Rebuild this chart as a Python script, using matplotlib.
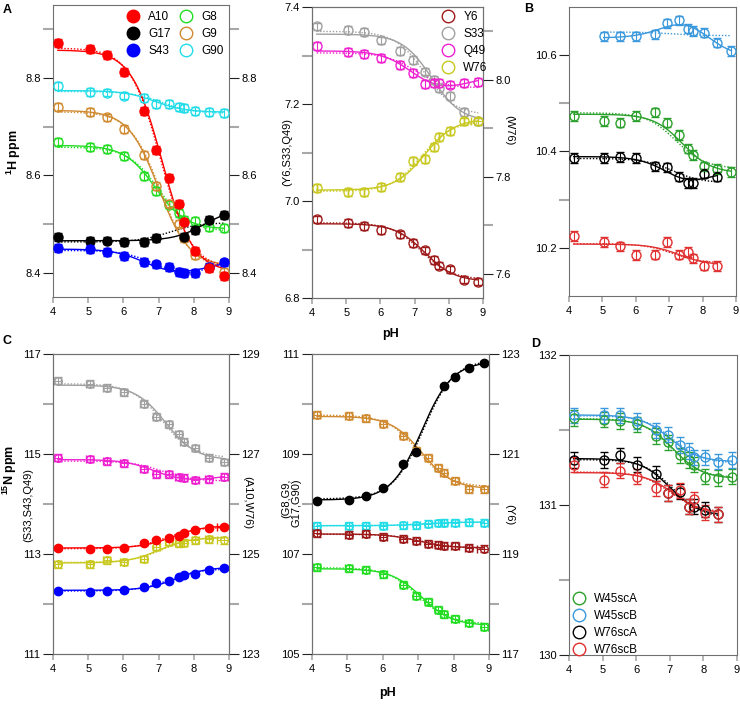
import numpy as np
import matplotlib
matplotlib.use('Agg')
import matplotlib.pyplot as plt
from matplotlib.lines import Line2D
from matplotlib.ticker import FormatStrFormatter

plt.rcParams['font.family'] = ['Liberation Sans', 'DejaVu Sans']
plt.rcParams['mathtext.default'] = 'regular'
plt.rcParams['font.size'] = 8

nan = np.nan

# pH of the titration points
ph = [4.14, 5.04, 5.52, 6.01, 6.58, 6.94, 7.29, 7.57, 7.72, 8.04, 8.43, 8.86]

# A: backbone 1H shifts (ppm)
h_a10 = [8.872, 8.859, 8.847, 8.812, 8.732, 8.652, 8.595, 8.542, 8.505, 8.445, 8.410, 8.393]
h_g17 = [8.474, 8.466, 8.466, 8.463, 8.463, 8.471, nan, nan, 8.473, 8.487, 8.509, 8.518]
h_s43 = [8.450, 8.448, 8.442, 8.434, 8.422, 8.417, 8.412, 8.402, 8.399, 8.399, 8.412, 8.421]
h_g8 = [8.669, 8.659, 8.654, 8.640, 8.599, 8.568, 8.540, 8.523, 8.508, 8.506, 8.493, 8.492]
h_g9 = [8.740, 8.730, 8.719, 8.695, 8.641, 8.578, 8.542, 8.501, 8.472, 8.437, 8.412, 8.402]
h_g90 = [8.783, 8.772, 8.770, 8.764, 8.759, 8.747, 8.747, 8.740, 8.738, 8.732, 8.730, 8.728]
h_y6 = [6.962, 6.955, 6.948, 6.940, 6.931, 6.914, 6.898, 6.878, 6.867, 6.859, 6.838, 6.834]
h_s33 = [7.360, 7.353, 7.348, 7.331, 7.310, 7.291, 7.267, 7.250, 7.233, 7.217, 7.184, 7.164]
h_q49 = [7.319, 7.308, 7.303, 7.295, 7.281, 7.264, 7.242, 7.244, 7.244, 7.240, 7.243, 7.246]
h_w76 = [7.777, 7.768, 7.768, 7.779, 7.800, 7.832, 7.837, 7.862, 7.882, 7.894, 7.914, 7.914]

# B: side-chain indole 1H shifts (ppm)
b_w45a = [10.474, 10.463, 10.460, 10.474, 10.481, 10.460, 10.434, 10.406, 10.393, 10.369, 10.364, 10.357]
b_w45b = [nan, 10.639, 10.639, 10.639, 10.643, 10.666, 10.672, 10.655, 10.650, 10.647, 10.626, 10.609]
b_w76a = [10.386, 10.386, 10.388, 10.386, 10.369, 10.367, 10.348, 10.334, 10.334, 10.354, 10.348, nan]
b_w76b = [10.224, 10.212, 10.203, 10.185, 10.186, 10.212, 10.186, 10.191, 10.178, 10.163, 10.162, nan]

# C: backbone 15N shifts (ppm)
n_s33 = [116.47, 116.41, 116.33, 116.24, 116.01, 115.75, 115.60, 115.40, 115.25, 115.12, 114.93, 114.84]
n_q49 = [114.93, 114.90, 114.86, 114.82, 114.70, 114.60, 114.60, 114.54, 114.53, 114.48, 114.50, 114.55]
n_s43 = [112.26, 112.25, 112.26, 112.28, 112.34, 112.42, 112.47, 112.54, 112.58, 112.60, 112.68, 112.72]
n_a10 = [125.12, 125.10, 125.10, 125.12, 125.22, 125.28, 125.33, 125.37, 125.42, 125.48, 125.53, 125.55]
n_w76 = [124.80, 124.80, 124.88, 124.84, 124.90, 125.15, 125.25, 125.22, 125.23, 125.28, 125.30, 125.28]
n_g17 = [108.07, 108.09, 108.17, 108.33, 108.80, 109.05, nan, nan, 110.37, 110.55, 110.73, 110.83]
n_g9 = [109.79, 109.77, 109.72, 109.61, 109.37, 109.07, 108.93, 108.73, 108.63, 108.47, 108.30, 108.30]
n_g90 = [107.57, 107.57, 107.57, 107.57, 107.58, 107.58, 107.61, 107.62, 107.63, 107.63, 107.64, 107.63]
n_g8 = [106.74, 106.72, 106.69, 106.60, 106.39, 106.17, 106.05, 105.89, 105.80, 105.71, 105.62, 105.55]
n_y6 = [119.42, 119.39, 119.41, 119.35, 119.31, 119.27, 119.21, 119.19, 119.17, 119.17, 119.13, 119.11]

# D: side-chain indole 15N shifts (ppm)
d_w45a = [131.58, 131.57, 131.56, 131.54, 131.46, 131.42, 131.33, 131.30, 131.27, 131.19, 131.18, 131.19]
d_w45b = [131.60, 131.60, 131.60, 131.56, 131.50, 131.47, 131.40, 131.36, 131.32, 131.32, 131.29, 131.30]
d_w76a = [131.30, 131.30, 131.33, 131.27, 131.21, 131.08, 131.09, 130.99, 130.99, 130.97, 130.94, nan]
d_w76b = [131.27, 131.17, 131.23, 131.19, 131.11, 131.08, 131.10, 130.99, 131.04, 130.95, 130.94, nan]

# errors
err_h = 0.008
err_b = 0.010
err_n = 0.07
err_d = 0.05
ph_err_n = 0.1
ph_err_last = [0, 0, 0, 0, 0, 0, 0, 0, 0, 0, 0, 0.2]

# pKa values of the two fits (solid line, dotted line)
pk_fit = {
    'hA10': ([7.1], [7.05]), 'hG17': ([8.3], [7.3]), 'hS43': ([6.6, 8.4], [6.9, 8.6]),
    'hG8': ([6.9], [7.0]), 'hG9': ([7.0], [7.05]), 'hG90': ([6.9], [7.1]),
    'hY6': ([7.3], [7.2]), 'hS33': ([7.5], [7.3]), 'hQ49': ([6.9, 8.5], [7.0]), 'hW76': ([7.3], [7.2]),
    'bW45A': ([7.4], [7.2]), 'bW45B': ([6.9, 8.1], [7.1]), 'bW76A': ([7.0, 8.0], [7.1]), 'bW76B': ([7.3], [7.1]),
    'nS33': ([7.2], [7.1]), 'nQ49': ([6.9, 8.6], [7.1]), 'nS43': ([7.5], [7.3]),
    'nA10': ([7.4], [7.2]), 'nW76': ([7.0], [7.1]),
    'nG17': ([7.1], [7.15]), 'nG9': ([7.1], [7.0]), 'nG90': ([7.2], [7.1]), 'nG8': ([7.1], [7.0]), 'nY6': ([7.0], [7.1]),
    'dW45A': ([7.1], [7.05]), 'dW45B': ([7.0], [7.1]), 'dW76A': ([7.0], [7.1]), 'dW76B': ([7.1], [7.0]),
}

col = {'A10': '#ff0000', 'G17': '#000000', 'S43': '#0000ff', 'G8': '#22dd22', 'G9': '#d08a30',
       'G90': '#22dde8', 'Y6': '#9e1a1a', 'S33': '#a0a0a0', 'Q49': '#ee22d0', 'W76': '#c8c820',
       'W45scA': '#2ca02c', 'W45scB': '#3a98dc', 'W76scA': '#000000', 'W76scB': '#e03030'}


def fit_curve(x, y, pks, xs):
    # least squares for plateaus with fixed pKa's
    A = np.column_stack([np.ones_like(x)] + [1 / (1 + 10 ** (pk - x)) for pk in pks])
    coef = np.linalg.lstsq(A, y, rcond=None)[0]
    B = np.column_stack([np.ones_like(xs)] + [1 / (1 + 10 ** (pk - xs)) for pk in pks])
    return B @ coef


def draw(ax, y, color, key, yerr, xerr=None, filled=False, ms=6.5):
    x = np.array(ph)
    y = np.array(y, dtype=float)
    ok = ~np.isnan(y)
    xs = np.linspace(x[ok].min(), x[ok].max(), 200)
    pk_line, pk_dots = pk_fit[key]
    ax.plot(xs, fit_curve(x[ok], y[ok], pk_line, xs), color=color, lw=1.0, zorder=2)
    ax.plot(xs, fit_curve(x[ok], y[ok], pk_dots, xs), color=color, lw=1.0, ls=(0, (1, 1.3)), zorder=2)
    if xerr is not None:
        xerr = np.broadcast_to(np.asarray(xerr, dtype=float), x.shape)[ok]
    ax.errorbar(x[ok], y[ok], yerr=yerr, xerr=xerr, fmt='o', ms=ms,
                mfc=color if filled else 'none', mec=color, mew=1.0,
                ecolor=color, elinewidth=0.8, capsize=2.6, capthick=0.8, zorder=3)


W, H = 740, 705
fig = plt.figure(figsize=(W / 100, H / 100), dpi=100)


def add_ax(x0, y0, x1, y1):
    return fig.add_axes([x0 / W, 1 - y1 / H, (x1 - x0) / W, (y1 - y0) / H])


def style(ax, ylim, majors, minors, fmt, side='left'):
    ax.set_xlim(4, 9)
    ax.set_ylim(*ylim)
    ax.set_xticks([4, 5, 6, 7, 8, 9])
    ax.set_yticks(majors)
    ax.set_yticks(minors, minor=True)
    ax.yaxis.set_major_formatter(FormatStrFormatter(fmt))
    ax.tick_params(axis='y', which='major', direction='out', length=7, width=0.8,
                   color='#222222', labelsize=8, pad=2)
    ax.tick_params(axis='y', which='minor', direction='out', length=7, width=1.5, color='#a8a8a8')
    ax.tick_params(axis='x', direction='out', length=4, width=1.2, color='#a8a8a8', labelsize=8, pad=3)
    if side == 'both':
        ax.tick_params(axis='y', which='both', right=True, labelright=True)
    elif side == 'right':
        ax.tick_params(axis='y', which='both', left=False, labelleft=False, right=True, labelright=True)
    for s in ax.spines.values():
        s.set_color('#707070')
        s.set_linewidth(0.8)


def legend(ax, names, filled, x, y, ncol=1, colsp=0.9):
    handles = [Line2D([], [], marker='o', ls='none', ms=9, mew=1.0, mec=col[n],
                      mfc=col[n] if f else 'none') for n, f in zip(names, filled)]
    ax.legend(handles, names, loc='upper left', bbox_to_anchor=(x / W, 1 - y / H),
              bbox_transform=fig.transFigure, ncol=ncol, frameon=False, fontsize=8.5,
              handletextpad=0.7, columnspacing=colsp, labelspacing=0.42, borderpad=0, handlelength=1.2)


# ---- panel A, left
axA = add_ax(53, 5, 229, 297)
style(axA, (8.35, 8.95), [8.4, 8.6, 8.8], [8.5, 8.7, 8.9], '%.1f', side='both')
draw(axA, h_g90, col['G90'], 'hG90', err_h)
draw(axA, h_g8, col['G8'], 'hG8', err_h)
draw(axA, h_g9, col['G9'], 'hG9', err_h)
draw(axA, h_g17, col['G17'], 'hG17', err_h, filled=True)
draw(axA, h_s43, col['S43'], 'hS43', err_h, filled=True)
draw(axA, h_a10, col['A10'], 'hA10', err_h, filled=True)
legend(axA, ['A10', 'G17', 'S43', 'G8', 'G9', 'G90'], [1, 1, 1, 0, 0, 0], 120, 5, ncol=2, colsp=0.7)

# ---- panel A, middle
axA2 = add_ax(312, 7, 483, 298)
style(axA2, (6.8, 7.4), [6.8, 7.0, 7.2, 7.4], [6.9, 7.1, 7.3], '%.1f')
axA2w = axA2.twinx()
style(axA2w, (7.55, 8.15), [7.6, 7.8, 8.0], [7.7, 7.9, 8.1], '%.1f', side='right')
draw(axA2, h_y6, col['Y6'], 'hY6', err_h)
draw(axA2, h_s33, col['S33'], 'hS33', err_h)
draw(axA2, h_q49, col['Q49'], 'hQ49', err_h)
draw(axA2w, h_w76, col['W76'], 'hW76', err_h, xerr=ph_err_last)
legend(axA2w, ['Y6', 'S33', 'Q49', 'W76'], [0, 0, 0, 0], 435, 5)

# ---- panel B
axB = add_ax(569, 7, 736, 296)
style(axB, (10.1, 10.7), [10.2, 10.4, 10.6], [10.3, 10.5], '%.1f')
draw(axB, b_w45b, col['W45scB'], 'bW45B', err_b)
draw(axB, b_w45a, col['W45scA'], 'bW45A', err_b)
draw(axB, b_w76a, col['W76scA'], 'bW76A', err_b)
draw(axB, b_w76b, col['W76scB'], 'bW76B', err_b)

# ---- panel C, left
axC = add_ax(53, 354, 229, 654)
style(axC, (111, 117), [111, 113, 115, 117], [112, 114, 116], '%d')
axCw = axC.twinx()
style(axCw, (123, 129), [123, 125, 127, 129], [124, 126, 128], '%d', side='right')
draw(axC, n_s33, col['S33'], 'nS33', err_n, xerr=ph_err_n, ms=5.5)
draw(axC, n_q49, col['Q49'], 'nQ49', err_n, xerr=ph_err_n, ms=5.5)
draw(axC, n_s43, col['S43'], 'nS43', err_n / 2, filled=True, ms=6)
draw(axCw, n_w76, col['W76'], 'nW76', err_n, xerr=np.maximum(ph_err_n, ph_err_last), ms=5.5)
draw(axCw, n_a10, col['A10'], 'nA10', err_n / 2, xerr=ph_err_last, filled=True, ms=6)

# ---- panel C, middle
axC2 = add_ax(312, 354, 489, 654)
style(axC2, (105, 111), [105, 107, 109, 111], [106, 108, 110], '%d')
axC2w = axC2.twinx()
style(axC2w, (117, 123), [117, 119, 121, 123], [118, 120, 122], '%d', side='right')
draw(axC2, n_g8, col['G8'], 'nG8', err_n, xerr=ph_err_n, ms=5.5)
draw(axC2, n_g90, col['G90'], 'nG90', err_n, xerr=ph_err_n, ms=5.5)
draw(axC2, n_g9, col['G9'], 'nG9', err_n, xerr=ph_err_n, ms=5.5)
draw(axC2, n_g17, col['G17'], 'nG17', err_n / 2, filled=True, ms=6)
draw(axC2w, n_y6, col['Y6'], 'nY6', err_n, xerr=np.maximum(ph_err_n, ph_err_last), ms=5.5)

# ---- panel D
axD = add_ax(569, 355, 737, 655)
style(axD, (130, 132), [130, 131, 132], [130.5, 131.5], '%d')
draw(axD, d_w45a, col['W45scA'], 'dW45A', err_d)
draw(axD, d_w45b, col['W45scB'], 'dW45B', err_d)
draw(axD, d_w76a, col['W76scA'], 'dW76A', err_d)
draw(axD, d_w76b, col['W76scB'], 'dW76B', err_d)
legend(axD, ['W45scA', 'W45scB', 'W76scA', 'W76scB'], [0, 0, 0, 0], 566, 587)


def ftext(x, y, s, **kw):
    fig.text(x / W, 1 - y / H, s, ha='center', va='center', **kw)


ftext(7, 10, 'A', fontsize=9, fontweight='bold')
ftext(529, 9, 'B', fontsize=9, fontweight='bold')
ftext(7, 341, 'C', fontsize=9, fontweight='bold')
ftext(536, 344, 'D', fontsize=9, fontweight='bold')
ftext(14, 152, '$^1$H ppm', fontsize=9, fontweight='bold', rotation=90)
ftext(287, 152, '(Y6,S33,Q49)', fontsize=8, rotation=90)
ftext(509, 130, '(W76)', fontsize=8, rotation=270)
ftext(391, 334, 'pH', fontsize=9, fontweight='bold')
ftext(10, 470, '$^{15}$N ppm', fontsize=9, fontweight='bold', rotation=90)
ftext(28, 505, '(S33,S43,Q49)', fontsize=8, rotation=90)
ftext(247, 503, '(A10,W76)', fontsize=8, rotation=270)
ftext(291, 503, '(G8,G9,\nG17,G90)', fontsize=8, rotation=90, linespacing=1.0, multialignment='right')
ftext(509, 515, '(Y6)', fontsize=8, rotation=270)
ftext(388, 693, 'pH', fontsize=9, fontweight='bold')

fig.savefig('out.png', dpi=100)
